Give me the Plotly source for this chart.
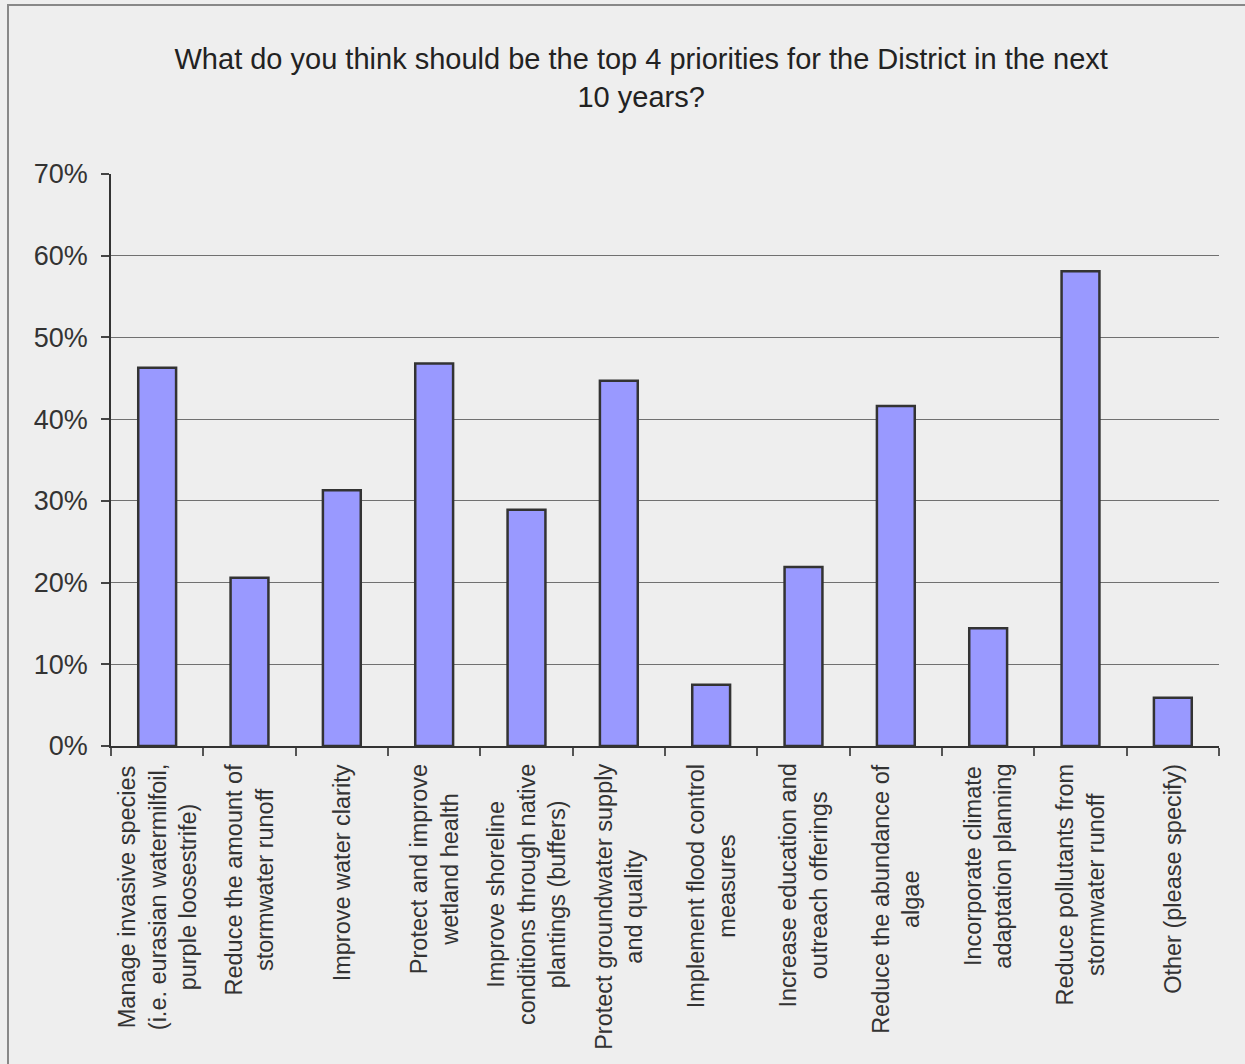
import plotly.graph_objects as go

categories = [
    "Manage invasive species<br>(i.e. eurasian watermilfoil,<br>purple loosestrife)",
    "Reduce the amount of<br>stormwater runoff",
    "Improve water clarity",
    "Protect and improve<br>wetland health",
    "Improve shoreline<br>conditions through native<br>plantings (buffers)",
    "Protect groundwater supply<br>and quality",
    "Implement flood control<br>measures",
    "Increase education and<br>outreach offerings",
    "Reduce the abundance of<br>algae",
    "Incorporate climate<br>adaptation planning",
    "Reduce pollutants from<br>stormwater runoff",
    "Other (please specify)",
]
values = [0.463, 0.206, 0.313, 0.468, 0.289, 0.447, 0.075, 0.219, 0.416, 0.144, 0.581, 0.059]
title_text = "What do you think should be the top 4 priorities for the District in the next<br>10 years?"

FONT = "Liberation Sans, Arial, sans-serif"

fig = go.Figure(go.Bar(
    x=categories, y=values,
    marker=dict(color="#9999FF", line=dict(color="#333333", width=2.5)),
))

annotations = []
for c in categories:
    annotations.append(dict(
        x=c, xref="x", y=-0.028, yref="paper",
        text=c, textangle=-90, showarrow=False,
        xanchor="center", yanchor="top", align="center",
        font=dict(family=FONT, size=23.5, color="#333333"),
    ))

fig.update_layout(
    width=1245, height=1064,
    paper_bgcolor="#EEEEEE", plot_bgcolor="#EEEEEE",
    margin=dict(l=111, r=26, t=174, b=318),
    bargap=0.59,
    showlegend=False,
    title=dict(text=title_text, x=0.515, xanchor="center", y=0.935, yanchor="top",
               font=dict(family=FONT, size=29, color="#222222")),
    font=dict(family=FONT, color="#333333"),
    xaxis=dict(type="category", showticklabels=False, tickson="boundaries",
               ticks="outside", ticklen=8, tickcolor="#555555", tickwidth=1.5,
               showline=True, linecolor="#333333", linewidth=1.5,
               showgrid=False, range=[-0.5, 11.5]),
    yaxis=dict(range=[0, 0.7], dtick=0.1, tickformat=".0%",
               ticks="outside", ticklen=8, tickcolor="#444444", tickwidth=1.5,
               ticklabelstandoff=8,
               showline=True, linecolor="#333333", linewidth=1.5,
               gridcolor="#707070", gridwidth=1.2, zeroline=False,
               tickfont=dict(family=FONT, size=27, color="#333333")),
    annotations=annotations,
    shapes=[dict(type="rect", xref="paper", yref="paper",
                 x0=(8 - 111) / 1108, x1=1.2, y0=-1, y1=(746 - 5) / 572,
                 line=dict(color="#888888", width=2), fillcolor="rgba(0,0,0,0)", layer="below")],
)

fig.write_html("out.html", config={"displayModeBar": False},
               post_script="document.body.style.margin='0';document.body.style.overflow='hidden';")
